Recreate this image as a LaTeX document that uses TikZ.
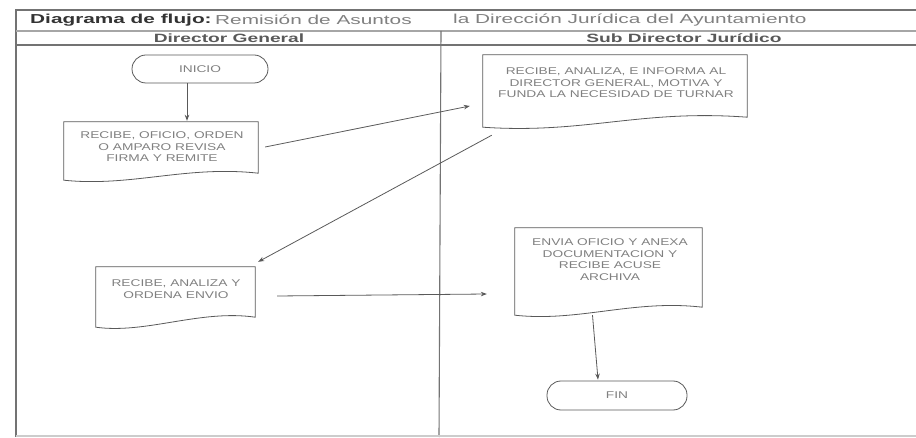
\documentclass[tikz,border=0pt]{standalone}
\usepackage{fontspec}
\setmainfont{Liberation Sans}[FakeStretch=1.4]
\newfontfamily\titlefont{Liberation Sans}[FakeStretch=1.6]
\usetikzlibrary{arrows.meta,calc}
\definecolor{ln}{gray}{0.35}
\definecolor{frm}{gray}{0.45}
\definecolor{txt}{gray}{0.5}
\tikzset{
  frameline/.style={draw=frm, line width=1.1pt},
  shapeline/.style={draw=ln, line width=0.8pt},
  docbox/.style={inner sep=0pt, draw=none},
  boxtext/.style={text=txt, font=\fontsize{9.8}{11.5}\selectfont, align=center, inner sep=0pt},
  term/.style={shapeline, rounded corners=14pt, inner sep=0pt, text=txt, font=\fontsize{9.8}{11.5}\selectfont},
  arr/.style={draw=ln, line width=0.8pt, -{Stealth[length=6pt,width=4.5pt]}},
  titlebold/.style={anchor=west, inner sep=0pt, text=black!80, font={\titlefont\fontsize{13}{15}\selectfont\bfseries}},
  titlereg/.style={anchor=west, inner sep=0pt, text=black!50, font={\titlefont\fontsize{13}{15}\selectfont}},
  header/.style={inner sep=0pt, text=black!65, font={\titlefont\fontsize{12}{14}\selectfont\bfseries}}
}
\newcommand\docshape[2]{\draw[shapeline] (#1.north west) -- (#1.north east) -- ($(#1.south east)+(0,-#2)$) .. controls ($(#1.south)+(25,-#2-8)$) and ($(#1.south)+(-30,7)$) .. (#1.south west) -- cycle;}
\begin{document}
\begin{tikzpicture}[x=1pt,y=-1pt]
\useasboundingbox (0,0) rectangle (916,438);
% frame
\draw[frameline] (916,10) -- (16,10) -- (16,437);
\draw[frameline, draw=black!35] (16,31) -- (916,31);
\draw[frameline] (16,45) -- (916,45);
\draw[frameline] (441,31) -- (439,437);
\draw[frameline, draw=black!20] (16,436) -- (916,436);
% title and headers
\node[titlebold] (ttl) at (30,20) {Diagrama de flujo:};
\node[titlereg] (ttl2) at (215,20) {Remisión de Asuntos};
\node[titlereg] (ttl3) at (453,20) {la Dirección Jurídica del Ayuntamiento};
\node[header] (h1) at (229,38) {Director General};
\node[header] (h2) at (684,38) {Sub Director Jurídico};
% terminals
\node[term, minimum width=136pt, minimum height=28pt] (ini) at (200,69) {INICIO};
\node[term, minimum width=140pt, minimum height=29pt] (fin) at (617,395.5) {FIN};
% documents
\node[docbox, minimum width=194pt, minimum height=58pt] (d1) at (161,151) {};
\node[docbox, minimum width=264pt, minimum height=72pt] (d2) at (615,91) {};
\node[docbox, minimum width=159pt, minimum height=60pt] (d3) at (175.5,297) {};
\node[docbox, minimum width=187pt, minimum height=87pt] (d4) at (608.5,271.5) {};
\docshape{d1}{7}
\docshape{d2}{10}
\docshape{d3}{10}
\docshape{d4}{8}
\node[boxtext] (t1) at (162,147) {RECIBE, OFICIO, ORDEN\\O AMPARO REVISA\\FIRMA Y REMITE};
\node[boxtext] (t2) at (616,83) {RECIBE, ANALIZA, E INFORMA AL\\DIRECTOR GENERAL, MOTIVA Y\\FUNDA LA NECESIDAD DE TURNAR};
\node[boxtext] (t3) at (176,289) {RECIBE, ANALIZA Y\\ORDENA ENVIO};
\node[boxtext] (t4) at (610,259.5) {ENVIA OFICIO Y ANEXA\\DOCUMENTACION Y\\RECIBE ACUSE\\ARCHIVA};
% connectors
\draw[arr] ($(ini.south)+(-13,0)$) -- ($(d1.north)+(26,-1)$);
\draw[arr] ($(d1.east)+(7,-4)$) -- ($(d2.west)+(-13,15)$);
\draw[arr] ($(d2.south west)+(9,8)$) -- ($(d3.north east)+(3,-5)$);
\draw[arr] ($(d3.east)+(22,-1)$) -- ($(d4.west)+(-28,22.5)$);
\draw[arr] ($(d4.south)+(-16,0)$) -- ($(fin.north)+(-19,-1)$);
\end{tikzpicture}
\end{document}
